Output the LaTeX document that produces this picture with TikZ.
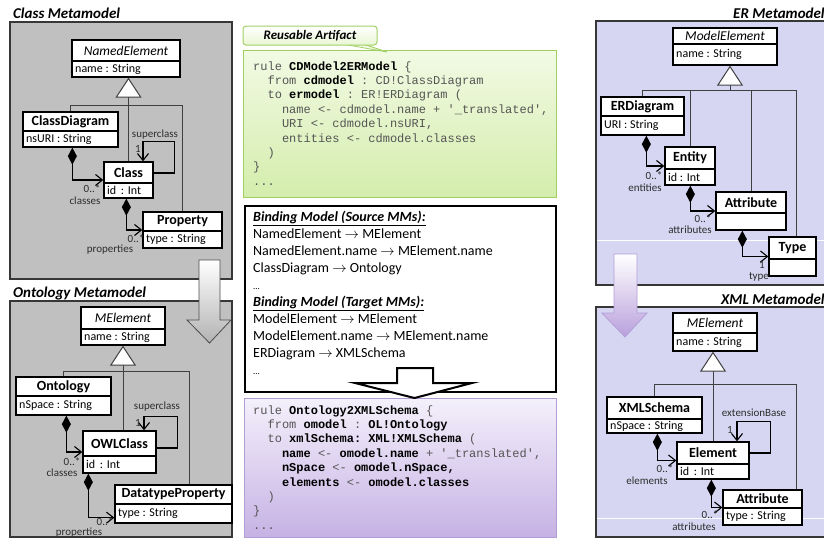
\documentclass[tikz,border=0pt]{standalone}
\usepackage{fontspec}
\setmainfont{Carlito}
\setmonofont{Liberation Mono}
\usetikzlibrary{arrows.meta,calc}
\definecolor{panelgray}{RGB}{192,192,192}
\definecolor{panelline}{RGB}{55,55,55}
\definecolor{erfill}{RGB}{214,214,242}
\definecolor{greentop}{RGB}{242,250,228}
\definecolor{greenbot}{RGB}{212,237,172}
\definecolor{greenline}{RGB}{160,208,100}
\definecolor{purptop}{RGB}{244,240,251}
\definecolor{purpbot}{RGB}{198,178,228}
\definecolor{purpline}{RGB}{178,158,214}
\definecolor{arrowpurp}{RGB}{185,160,220}
\definecolor{codegray}{RGB}{85,85,85}
\definecolor{labelgray}{RGB}{45,45,45}
\newcommand{\kw}[1]{{\bfseries\color{black}#1}}
\newcommand{\umlbox}[9]{%
  \node[umlframe, minimum width={(#3-#2)*1pt}, minimum height={(#6-#4)*1pt}] (#1) at ({(#2+#3)/2},{(#4+#6)/2}) {};
  \draw[umlsep] (#2,#5) -- (#3,#5);
  \node[#7] (#1t) at ({(#2+#3)/2},{(#4+#5)/2}) {#8};
  \node[attrtext] (#1a) at (#2,{(#5+#6)/2}) {#9};
}
\begin{document}
\begin{tikzpicture}[x=1pt,y=-1pt,
  panel/.style={draw=panelline, line width=1.8pt},
  paneltitle/.style={anchor=base west, inner sep=0pt, font=\fontsize{15}{17}\selectfont\bfseries\itshape},
  umlframe/.style={draw=black, line width=1.3pt, fill=white, inner sep=0pt},
  umlsep/.style={draw=black, line width=1.3pt},
  clsname/.style={inner sep=0pt, font=\fontsize{14}{16}\selectfont\bfseries},
  absname/.style={inner sep=0pt, font=\fontsize{13.5}{16}\selectfont\itshape},
  attrtext/.style={anchor=west, inner xsep=3pt, inner ysep=0pt, font=\fontsize{12}{14}\selectfont},
  lbl/.style={inner sep=0pt, font=\fontsize{11}{13}\selectfont, text=labelgray},
  gen/.style={draw=black!75, line width=0.9pt},
  gentip/.style={-{Triangle[length=20pt,width=26pt,fill=white,line width=1pt]}},
  comp/.style={draw=black, line width=1.1pt, {Diamond[length=17pt,width=9pt,fill=black]}-{Straight Barb[length=7pt,width=11pt]}},
  assoc/.style={draw=black, line width=1.1pt, -{Straight Barb[length=7pt,width=11pt]}},
  code/.style={anchor=base west, inner sep=0pt, font=\ttfamily\fontsize{12}{14.4}\selectfont, text=codegray},
  bind/.style={anchor=base west, inner sep=0pt, font=\fontsize{14}{17}\selectfont},
]
\useasboundingbox (0,0) rectangle (824,539);

% ---------- panels ----------
\draw[panel, fill=panelgray] (10,22) rectangle (232,279);
\draw[panel, fill=panelgray] (10,301) rectangle (232,537);
\draw[panel, fill=erfill] (596,21) rectangle (840,285);
\draw[panel, fill=erfill] (596,307) rectangle (840,537);
\draw[white, line width=0.8pt] (597,240) -- (824,240);
\draw[white, line width=0.8pt] (597,518) -- (824,518);

\node[paneltitle] (t1) at (13,18.5) {Class Metamodel};
\node[paneltitle] (t2) at (13,297.5) {Ontology Metamodel};
\node[paneltitle] (t3) at (733,18) {ER Metamodel};
\node[paneltitle] (t4) at (721,304) {XML Metamodel};

% ---------- Class metamodel ----------
\umlbox{ne}{72}{180}{40}{61}{77}{absname}{NamedElement}{name : String}
\umlbox{cd}{23}{118}{112}{131}{147}{clsname}{ClassDiagram}{nsURI : String}
\umlbox{cls}{104}{153}{162}{183}{198}{clsname}{Class}{id \,: Int}
\umlbox{prop}{143}{222}{212}{231}{248}{clsname}{Property}{type : String}
\coordinate (cbus) at (0,105);
\coordinate (propc) at ([xshift=40pt]prop.north west);
\draw[gen] (cd.north) |- (propc |- cbus) -- (propc);
\draw[gen,gentip] (cls.north) -- (cls.north |- ne.south);
\draw[comp] ([xshift=50pt]cd.south west) |- (cls.west);
\draw[comp] ([xshift=23pt]cls.south west) |- (prop.west);
\draw[assoc] ([yshift=7pt]cls.east) -- ++(21,0) |- ([xshift=14.5pt,yshift=20pt]cls.north) -- ([xshift=14.5pt]cls.north);
\node[lbl] (c1) at (155,135) {superclass};
\node[lbl] (c2) at (138,149) {1};
\node[lbl] (c3) at (92,189) {0..*};
\node[lbl] (c4) at (85,201) {classes};
\node[lbl] (c5) at (136,239) {0..*};
\node[lbl] (c6) at (110,250) {properties};

% ---------- Ontology metamodel ----------
\umlbox{mel}{81}{165}{307}{329}{345}{absname}{MElement}{name : String}
\umlbox{ont}{16}{111}{377}{396}{415}{clsname}{Ontology}{nSpace : String}
\umlbox{owl}{83}{156}{431}{456}{473}{clsname}{OWLClass}{id \,: Int}
\umlbox{dtp}{115}{232}{485}{504}{523}{clsname}{DatatypeProperty}{type : String}
\coordinate (obus) at (0,371);
\coordinate (dtpc) at ([xshift=75pt]dtp.north west);
\draw[gen] (ont.north) |- (dtpc |- obus) -- (dtpc);
\draw[gen,gentip] (mel.south |- owl.north) -- (mel.south);
\draw[comp] ([xshift=51pt]ont.south west) |- (owl.west);
\draw[comp] ([xshift=6pt]owl.south west) |- ([yshift=6pt]dtp.south west);
\draw[assoc] ([yshift=4pt]owl.east) -- ++(21,0) |- ([xshift=24.5pt,yshift=14pt]owl.north) -- ([xshift=24.5pt]owl.north);
\node[lbl] (o1) at (157,407) {superclass};
\node[lbl] (o2) at (138,423) {1};
\node[lbl] (o3) at (72,462) {0..*};
\node[lbl] (o4) at (62,473) {classes};
\node[lbl] (o5) at (105,522) {0..*};
\node[lbl] (o6) at (79,533) {properties};

% big gray arrow
\draw[draw=black!70, line width=0.8pt, top color=white, bottom color=black!30]
  (199,260) -- (220,260) -- (220,320) -- (231,320) -- (209.5,343) -- (187,320) -- (199,320) -- cycle;

% ---------- ER metamodel ----------
\umlbox{me}{673}{777}{28}{44}{65}{absname}{ModelElement}{name : String}
\umlbox{erd}{601}{684}{97}{116}{135}{clsname}{ERDiagram}{URI : String}
\umlbox{ent}{665}{715}{147}{169}{185}{clsname}{Entity}{id : Int}
\umlbox{eat}{716}{786}{192}{213}{230}{clsname}{Attribute}{}
\umlbox{ty}{769}{816}{237}{259}{276}{clsname}{Type}{}
\coordinate (erbus) at (0,90);
\coordinate (tyc) at ([xshift=28pt]ty.north west);
\draw[gen] (erd.north) |- (tyc |- erbus) -- (tyc);
\draw[gen] (ent.north) -- (ent.north |- erbus);
\draw[gen] (eat.north) -- (eat.north |- erbus);
\draw[gen,gentip] ([xshift=5pt]me.south |- erbus) -- ([xshift=5pt]me.south);
\draw[comp] ([xshift=46pt]erd.south west) |- (ent.west);
\draw[comp] ([xshift=26pt]ent.south west) |- (eat.west);
\draw[comp] ([xshift=27pt]eat.south west) |- (ty.west);
\node[lbl] (e1) at (654,176) {0..*};
\node[lbl] (e2) at (645,188) {entities};
\node[lbl] (e3) at (703,219) {0..*};
\node[lbl] (e4) at (690,230) {attributes};
\node[lbl] (e5) at (762,265) {1};
\node[lbl] (e6) at (759,277) {type};

% purple arrow
\draw[draw=purpline, line width=0.8pt, top color=white, bottom color=arrowpurp]
  (614,254) -- (637,254) -- (637,313) -- (647,313) -- (625,337) -- (602,313) -- (614,313) -- cycle;

% ---------- XML metamodel ----------
\umlbox{xme}{673}{757}{313}{333}{351}{absname}{MElement}{name : String}
\umlbox{xs}{607}{702}{397}{419}{433}{clsname}{XMLSchema}{nSpace : String}
\umlbox{el}{677}{749}{442}{464}{479}{clsname}{Element}{id \,: Int}
\umlbox{xat}{723}{802}{490}{508}{525}{clsname}{Attribute}{type : String}
\coordinate (xbus) at (0,384);
\coordinate (xatc) at ([xshift=74pt]xat.north west);
\draw[gen] (xs.north) |- (xatc |- xbus) -- (xatc);
\draw[gen,gentip] (el.north) -- (el.north |- xme.south);
\draw[comp] ([xshift=51pt]xs.south west) |- (el.west);
\draw[comp] ([xshift=35pt]el.south west) |- (xat.west);
\draw[assoc] ([yshift=7.5pt]el.east) -- ++(21,0) |- ([xshift=24pt,yshift=20pt]el.north) -- ([xshift=24pt]el.north);
\node[lbl] (x1) at (754,413) {extensionBase};
\node[lbl] (x2) at (730,430) {1};
\node[lbl] (x3) at (665,469) {0..*};
\node[lbl] (x4) at (647,481) {elements};
\node[lbl] (x5) at (710,515) {0..*};
\node[lbl] (x6) at (694,527) {attributes};

% ---------- middle: reusable artifact ----------
\draw[draw=greenline, line width=1pt, top color=greentop, bottom color=greenbot] (243,50) rectangle (556,197);
\fill[greentop] (348,44) -- (387,52) -- (366,44) -- cycle;
\draw[greenline, line width=0.8pt] (348,45) -- (387,52) -- (366,45);
\node[draw=greenline, line width=1pt, rounded corners=3pt, top color=white, bottom color=greentop!70!greenbot,
      minimum width=134pt, minimum height=19pt, inner sep=0pt,
      font=\fontsize{13}{15}\selectfont\bfseries\itshape] (ra) at (310,35.5) {Reusable Artifact};

\node[code] (g1) at (253,70) {rule \kw{CDModel2ERModel} \{};
\node[code] (g2) at (253,84.4) {\hspace*{14.4pt}from \kw{cdmodel} : CD!ClassDiagram};
\node[code] (g3) at (253,98.8) {\hspace*{14.4pt}to \kw{ermodel} : ER!ERDiagram (};
\node[code] (g4) at (253,113.2) {\hspace*{28.8pt}name <- cdmodel.name + \textquotesingle\_translated\textquotesingle,};
\node[code] (g5) at (253,127.6) {\hspace*{28.8pt}URI <- cdmodel.nsURI,};
\node[code] (g6) at (253,142) {\hspace*{28.8pt}entities <- cdmodel.classes};
\node[code] (g7) at (253,156.4) {\hspace*{14.4pt})};
\node[code] (g8) at (253,170.8) {\}};
\node[code] (g9) at (253,185.2) {...};

% ---------- binding model ----------
\draw[draw=black, line width=2pt, fill=white] (245,206) rectangle (556,392);
\node[bind] (b1) at (253,221.5) {\underline{\textbf{\textit{Binding Model (Source MMs):}}}};
\node[bind] (b2) at (253,238.5) {NamedElement $\rightarrow$ MElement};
\node[bind] (b3) at (253,255.5) {NamedElement.name $\rightarrow$ MElement.name};
\node[bind] (b4) at (253,272.5) {ClassDiagram $\rightarrow$ Ontology};
\node[bind] (b5) at (253,289.5) {\fontsize{9}{10}\selectfont...};
\node[bind] (b6) at (253,306.5) {\underline{\textbf{\textit{Binding Model (Target MMs):}}}};
\node[bind] (b7) at (253,323.5) {ModelElement $\rightarrow$ MElement};
\node[bind] (b8) at (253,340.5) {ModelElement.name $\rightarrow$ MElement.name};
\node[bind] (b9) at (253,357.5) {ERDiagram $\rightarrow$ XMLSchema};
\node[bind] (b10) at (253,374.5) {\fontsize{9}{10}\selectfont...};

% ---------- purple rule ----------
\draw[draw=purpline, line width=1pt, top color=purptop, bottom color=purpbot] (244,398) rectangle (556,537);
\draw[draw=black, line width=2pt, fill=white, line join=miter]
  (397,368) -- (433,368) -- (433,383) -- (472,383) -- (414.5,398) -- (355,383) -- (397,383) -- cycle;

\node[code] (p1) at (253,414) {rule \kw{Ontology2XMLSchema} \{};
\node[code] (p2) at (253,428.4) {\hspace*{14.4pt}from \kw{omodel} : \kw{OL!Ontology}};
\node[code] (p3) at (253,442.8) {\hspace*{14.4pt}to \kw{xmlSchema:} \kw{XML!XMLSchema} (};
\node[code] (p4) at (253,457.2) {\hspace*{28.8pt}\kw{name} <- \kw{omodel.name} + \textquotesingle\_translated\textquotesingle,};
\node[code] (p5) at (253,471.6) {\hspace*{28.8pt}\kw{nSpace} <- \kw{omodel.nSpace,}};
\node[code] (p6) at (253,486) {\hspace*{28.8pt}\kw{elements} <- \kw{omodel.classes}};
\node[code] (p7) at (253,500.4) {\hspace*{14.4pt})};
\node[code] (p8) at (253,514.8) {\}};
\node[code] (p9) at (253,529.2) {...};
\end{tikzpicture}
\end{document}
